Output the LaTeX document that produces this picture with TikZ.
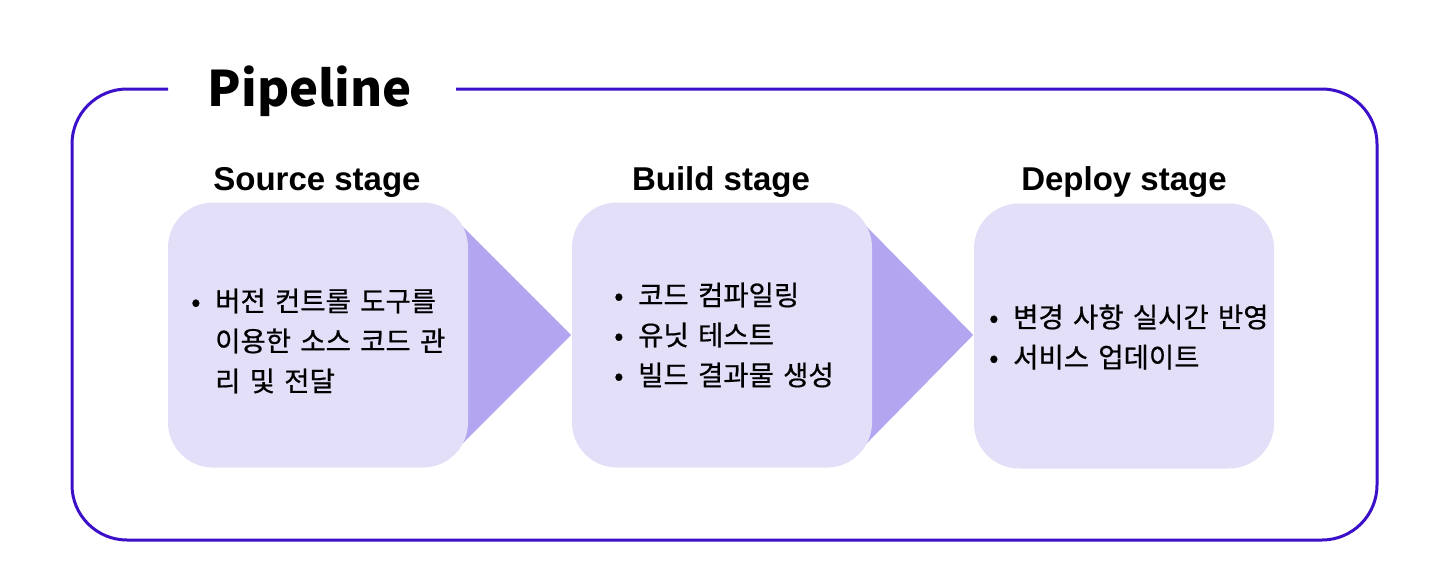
\documentclass[tikz,border=0pt]{standalone}
\usepackage{fontspec}
\newfontfamily\kr[WordSpace=1.5,FakeBold=0.6]{Noto Sans CJK KR}
\newfontfamily\krt{Noto Sans CJK KR}
\newfontfamily\hd{Liberation Sans}
\usetikzlibrary{calc,backgrounds}
\definecolor{frameC}{HTML}{3C10C8}
\definecolor{boxC}{HTML}{E4DFF8}
\definecolor{triC}{HTML}{B4A5F0}
\newcommand{\bul}[1]{\makebox[24pt][l]{•}#1}
\newcommand{\ind}[1]{\hspace*{24pt}#1}
\begin{document}
\begin{tikzpicture}[x=1pt,y=-1pt,
 stagebox/.style={fill=boxC, rounded corners=45pt, minimum width=300pt, minimum height=265pt, inner sep=0pt},
 tri/.style={fill=triC},
 hdr/.style={font=\hd\bfseries\fontsize{33}{40}\selectfont, anchor=base},
 body/.style={font=\kr\fontsize{27.5}{40}\selectfont, align=left, anchor=west, inner sep=0pt},
 frame/.style={draw=frameC, line width=3pt, rounded corners=55pt}]
\useasboundingbox (0,0) rectangle (1434,578);
\draw[frame] (168,89) -- (72,89) -- (72,540) -- (1377,540) -- (1377,89) -- (456,89);
\node[font=\krt\bfseries\fontsize{49}{60}\selectfont, anchor=base] (title) at (310,106) {Pipeline};

\node[stagebox] (src) at (318,335) {};
\node[stagebox] (bld) at (722,335) {};
\node[stagebox] (dep) at (1124,336) {};

\node[hdr] (srcH) at (317,190) {Source stage};
\node[hdr] (bldH) at (721,190) {Build stage};
\node[hdr] (depH) at (1124,190) {Deploy stage};

\node[body] (srcT) at (191,341) {\bul{버전 컨트롤 도구를}\\\ind{이용한 소스 코드 관}\\\ind{리 및 전달}};
\node[body] (bldT) at (614,335) {\bul{코드 컴파일링}\\\bul{유닛 테스트}\\\bul{빌드 결과물 생성}};
\node[body] (depT) at (989,337) {\bul{변경 사항 실시간 반영}\\\bul{서비스 업데이트}};

\begin{scope}[on background layer]
\fill[tri] ($(src.east)+(-15,-118)$) -- ($(src.east)+(103,0)$) -- ($(src.east)+(-15,118)$) -- cycle;
\fill[tri] ($(bld.east)+(-15,-118)$) -- ($(bld.east)+(101,0)$) -- ($(bld.east)+(-15,118)$) -- cycle;
\end{scope}
\end{tikzpicture}
\end{document}
